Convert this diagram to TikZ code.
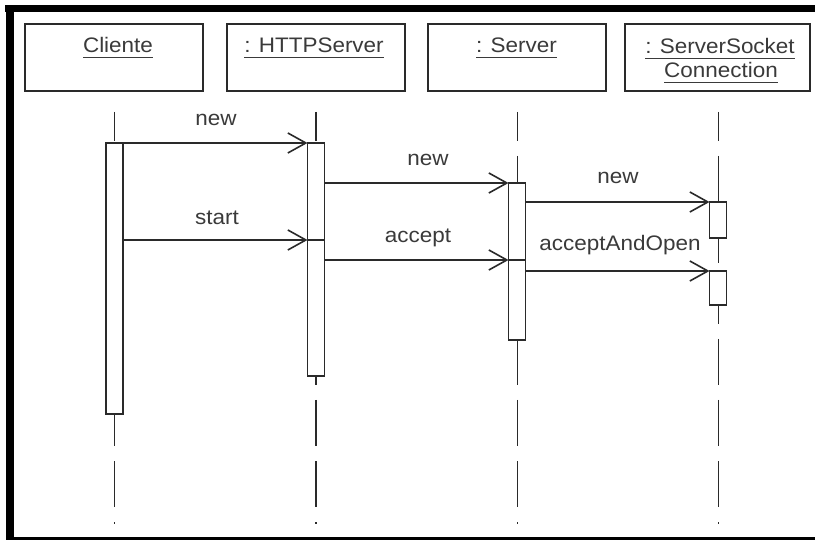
\documentclass[tikz,border=0pt]{standalone}
\usepackage{fontspec}
\setmainfont{Liberation Sans}[FakeStretch=1.07]
\usetikzlibrary{arrows.meta}
\definecolor{ink}{HTML}{2A2A2A}
\definecolor{txt}{HTML}{3A3A3A}
% underlined object name (UML instance notation)
\newcommand{\objname}[1]{\setbox0=\hbox{#1}\rlap{\rule[-5pt]{\wd0}{1.4pt}}\box0}
\begin{document}
\begin{tikzpicture}[x=1pt,y=-1pt,
  objbox/.style={draw=ink, line width=1.6pt, fill=white, minimum width=178pt,
                 minimum height=67pt, inner sep=0pt, outer sep=0pt},
  actbar/.style={draw=ink, line width=1.6pt, fill=white, minimum width=17pt,
                 inner sep=0pt, outer sep=0pt, anchor=north},
  lifeline/.style={draw=ink, line width=1.8pt, dash pattern=on 46pt off 15pt, dash phase=17pt},
  msg/.style={draw=ink, line width=1.8pt,
              -{Straight Barb[length=18pt,width=20pt,line width=1.6pt]}},
  lbl/.style={text=txt, anchor=base, inner sep=0pt, font=\fontsize{21}{25}\selectfont},
]
\useasboundingbox (0,0) rectangle (815,540);
\fill[white] (0,0) rectangle (815,540);

% frame
\fill[black] (5,5) rectangle (815,12);
\fill[black] (6,5) rectangle (14,540);
\fill[black] (6,537) rectangle (815,540);

% object boxes
\node[objbox] (cli) at (114,57.5) {};
\node[objbox] (http) at (316,57.5) {};
\node[objbox] (srv) at (517,57.5) {};
\node[objbox, minimum width=185pt] (ssc) at (717.5,57.5) {};

\node[lbl] (tCli) at (118,53) {\objname{Cliente}};
\node[lbl] (tHttp) at (314,53) {\objname{: HTTPServer}};
\node[lbl] (tSrv) at (516.5,53) {\objname{: Server}};
\node[lbl] (tSsc1) at (720,54) {\objname{: ServerSocket}};
\node[lbl] (tSsc2) at (721,78) {\objname{Connection}};

% lifelines
\coordinate (cliTop) at (114.5,112);  \coordinate (cliEnd) at (114.5,524);
\coordinate (httpTop) at (316,112);   \coordinate (httpEnd) at (316,524);
\coordinate (srvTop) at (517.5,112);  \coordinate (srvEnd) at (517.5,524);
\coordinate (sscTop) at (718.5,112);  \coordinate (sscEnd) at (718.5,524);
\draw[lifeline] (cliTop) -- (cliEnd);
\draw[lifeline] (httpTop) -- (httpEnd);
\draw[lifeline] (srvTop) -- (srvEnd);
\draw[lifeline] (sscTop) -- (sscEnd);

% activation bars
\node[actbar, minimum height=271pt] (cb) at (114.5,143) {};
\node[actbar, minimum height=233pt] (hb) at (316,143) {};
\node[actbar, minimum height=157pt] (sb) at (517,183) {};
\node[actbar, minimum height=36pt] (k1) at (718,202) {};
\node[actbar, minimum height=34pt] (k2) at (718,271) {};

% message levels
\coordinate (yStart) at (0,240);
\coordinate (yAccept) at (0,260);

% messages
\draw[msg] (cb.north east) -- (hb.north west);
\draw[msg] (cb.east |- yStart) -- (hb.west |- yStart);
\draw[draw=ink, line width=1.6pt] (hb.west |- yStart) -- (hb.east |- yStart);
\draw[msg] (hb.east |- sb.north) -- (sb.north west);
\draw[msg] (hb.east |- yAccept) -- (sb.west |- yAccept);
\draw[draw=ink, line width=1.6pt] (sb.west |- yAccept) -- (sb.east |- yAccept);
\draw[msg] (sb.east |- k1.north) -- (k1.north west);
\draw[msg] (sb.east |- k2.north) -- (k2.north west);

% message labels
\node[lbl] (lNew1) at (216,126) {new};
\node[lbl] (lStart) at (217,225) {start};
\node[lbl] (lNew2) at (428,166) {new};
\node[lbl] (lAccept) at (418,243) {accept};
\node[lbl] (lNew3) at (618,184) {new};
\node[lbl] (lAAO) at (620,251) {acceptAndOpen};
\end{tikzpicture}
\end{document}
